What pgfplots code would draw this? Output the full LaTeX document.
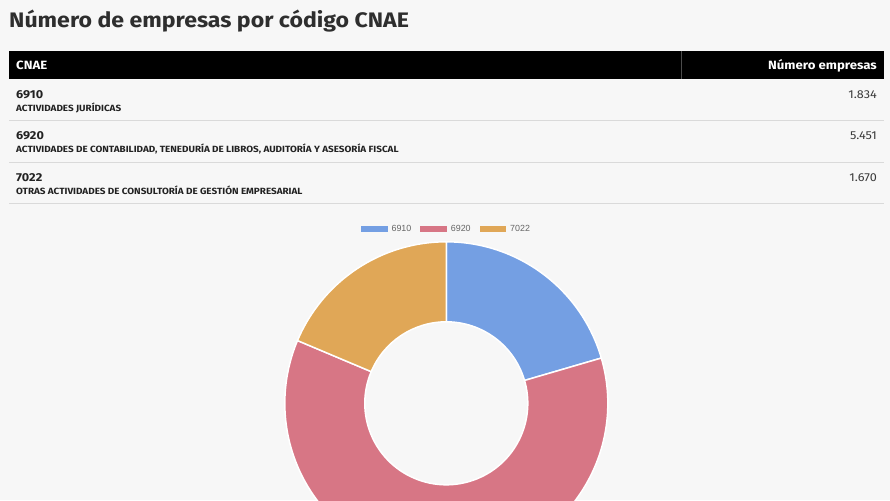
\documentclass[border=0pt]{standalone}
\usepackage{pgfplots}
\pgfplotsset{compat=1.18}
\usepackage{pgfplotstable}
\usepackage{fontspec}
\setmainfont{Fira Sans}[FakeStretch=1.1]
\newfontfamily\legfont{Liberation Sans}
\definecolor{bg}{HTML}{F7F7F7}
\definecolor{cA}{HTML}{749FE3}
\definecolor{cB}{HTML}{D77685}
\definecolor{cC}{HTML}{E0A757}
\definecolor{tit}{HTML}{2E2E2E}
\definecolor{rowtxt}{HTML}{222222}
\definecolor{numtxt}{HTML}{3A3A3A}
\definecolor{sepc}{HTML}{DADADA}
\definecolor{legtxt}{HTML}{666666}

\pgfplotstableread{
cnae empresas
6910 1834
6920 5451
7022 1670
}\datatable

\newcommand{\coderow}[4]{%
  \node[anchor=base west, text=rowtxt, inner sep=0pt, font=\bfseries\fontsize{11.5}{13}\selectfont] at (axis cs:16,#1) {#2};
  \node[anchor=base west, text=rowtxt, inner sep=0pt, font=\bfseries\fontsize{9}{10}\selectfont] at (axis cs:16,#1-13) {#3};
  \node[anchor=base east, text=numtxt, inner sep=0pt, font=\fontsize{11.5}{13}\selectfont] at (axis cs:877,#1) {#4};
  \draw[sepc, line width=1pt] (axis cs:9,#1-22.5) -- (axis cs:884,#1-22.5);
}

\begin{document}
\begin{tikzpicture}
\pgfplotstablegetelem{0}{empresas}\of\datatable \edef\va{\pgfplotsretval}
\pgfplotstablegetelem{1}{empresas}\of\datatable \edef\vb{\pgfplotsretval}
\pgfplotstablegetelem{2}{empresas}\of\datatable \edef\vc{\pgfplotsretval}
\pgfmathsetmacro{\tot}{\va+\vb+\vc}
\pgfmathsetmacro{\aA}{90}
\pgfmathsetmacro{\aB}{90-360*(\va/\tot)}
\pgfmathsetmacro{\aC}{\aB-360*(\vb/\tot)}
\pgfmathsetmacro{\aD}{\aC-360*(\vc/\tot)}
\def\cx{446.3}
\def\cy{96.7}
\def\R{161.5}
\def\r{81.5}
\clip (0,0) rectangle (890pt,500pt);
\fill[bg] (0,0) rectangle (890pt,500pt);
\begin{axis}[
  at={(0,0)}, anchor=south west,
  scale only axis, width=890pt, height=500pt,
  xmin=0, xmax=890, ymin=0, ymax=500,
  hide axis, clip=false,
  legend columns=3,
  legend image code/.code={\fill[#1, draw=none] (0pt,-3pt) rectangle (26.5pt,3pt);},
  legend style={at={(axis cs:446.5,270.5)}, anchor=center, draw=none, fill=none,
    font=\legfont\fontsize{8.9}{10}\selectfont, text=legtxt,
    inner sep=0pt, column sep=2pt,
    /tikz/every even column/.append style={column sep=7pt},
    nodes={inner sep=2pt}},
]
% title
\node[anchor=base west, text=tit, inner sep=0pt, font=\bfseries\fontsize{21}{25}\selectfont] at (axis cs:9,472.5) {Número de empresas por código CNAE};
% header
\fill[black] (axis cs:9,449) rectangle (axis cs:884,421);
\draw[gray!60!black, line width=1pt] (axis cs:681,449) -- (axis cs:681,421);
\node[anchor=base west, text=white, inner sep=0pt, font=\bfseries\fontsize{12}{14}\selectfont] at (axis cs:16,430) {CNAE};
\node[anchor=base east, text=white, inner sep=0pt, font=\bfseries\fontsize{12}{14}\selectfont] at (axis cs:877,430) {Número empresas};
% rows
\coderow{401.7}{6910}{ACTIVIDADES JURÍDICAS}{1.834}
\coderow{360}{6920}{ACTIVIDADES DE CONTABILIDAD, TENEDURÍA DE LIBROS, AUDITORÍA Y ASESORÍA FISCAL}{5.451}
\coderow{318.5}{7022}{OTRAS ACTIVIDADES DE CONSULTORÍA DE GESTIÓN EMPRESARIAL}{1.670}
% donut
\fill[cA, draw=white, line width=1.5pt] ({\cx+\R*cos(\aA)},{\cy+\R*sin(\aA)}) arc[start angle=\aA, end angle=\aB, radius=\R pt] -- ({\cx+\r*cos(\aB)},{\cy+\r*sin(\aB)}) arc[start angle=\aB, end angle=\aA, radius=\r pt] -- cycle;
\fill[cB, draw=white, line width=1.5pt] ({\cx+\R*cos(\aB)},{\cy+\R*sin(\aB)}) arc[start angle=\aB, end angle=\aC, radius=\R pt] -- ({\cx+\r*cos(\aC)},{\cy+\r*sin(\aC)}) arc[start angle=\aC, end angle=\aB, radius=\r pt] -- cycle;
\fill[cC, draw=white, line width=1.5pt] ({\cx+\R*cos(\aC)},{\cy+\R*sin(\aC)}) arc[start angle=\aC, end angle=\aD, radius=\R pt] -- ({\cx+\r*cos(\aD)},{\cy+\r*sin(\aD)}) arc[start angle=\aD, end angle=\aC, radius=\r pt] -- cycle;
\addlegendimage{fill=cA}
\addlegendentry{6910}
\addlegendimage{fill=cB}
\addlegendentry{6920}
\addlegendimage{fill=cC}
\addlegendentry{7022}
\end{axis}
\end{tikzpicture}
\end{document}
